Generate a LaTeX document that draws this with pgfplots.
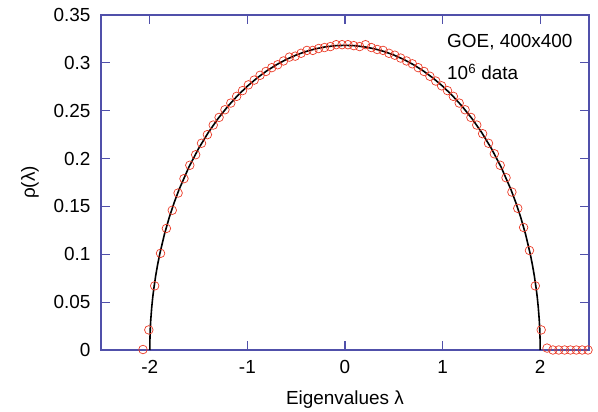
\documentclass[border=0pt]{standalone}
\usepackage{pgfplots}
\pgfplotsset{compat=1.18}
\usepackage{fontspec}
\setmainfont{Liberation Sans}
\definecolor{axblue}{RGB}{80,80,170}
\definecolor{ptred}{RGB}{235,60,40}
\begin{document}
\begin{tikzpicture}
\path[use as bounding box] (-101bp,-62bp) rectangle (497bp,350bp);
\begin{axis}[
  at={(0,0)}, anchor=south west,
  scale only axis, width=488bp, height=335bp,
  xmin=-2.5, xmax=2.5, ymin=0, ymax=0.35,
  xtick={-2,-1,0,1,2}, ytick={0,0.05,0.1,0.15,0.2,0.25,0.3,0.35},
  xticklabels={-2,-1,0,1,2},
  yticklabels={0,0.05,0.1,0.15,0.2,0.25,0.3,0.35},
  tick align=inside, major tick length=0pt,
  axis line style={draw=axblue, line width=1.2bp},
  ticklabel style={font=\fontsize{19}{22}\selectfont},
  xticklabel style={yshift=-7bp},
  yticklabel style={xshift=-7bp},
  label style={font=\fontsize{19}{22}\selectfont},
  xlabel={Eigenvalues λ}, ylabel={ρ(λ)},
  xlabel style={yshift=-10bp},
  ylabel style={yshift=8bp},
  clip=false,
]
\pgfplotsinvokeforeach{-2,-1,0,1,2}{
  \draw[axblue, line width=1.2bp] (axis cs:#1,0) -- (axis cs:#1,0.0094);
  \draw[axblue, line width=1.2bp] (axis cs:#1,0.35) -- (axis cs:#1,0.3406);
}
\pgfplotsinvokeforeach{0.05,0.1,0.15,0.2,0.25,0.3}{
  \draw[axblue, line width=1.2bp] (axis cs:-2.5,#1) -- (axis cs:-2.408,#1);
  \draw[axblue, line width=1.2bp] (axis cs:2.5,#1) -- (axis cs:2.408,#1);
}
\addplot[only marks, mark=o, mark size=4.3bp, mark options={ptred, line width=0.7bp}] coordinates {
(-2.07,0.0005) (-2.01,0.021) (-1.95,0.067) (-1.89,0.101) (-1.83,0.127) (-1.77,0.146)
(-1.71,0.164) (-1.65,0.179) (-1.59,0.193) (-1.53,0.204) (-1.47,0.216) (-1.41,0.225)
(-1.35,0.235) (-1.29,0.243) (-1.23,0.251) (-1.17,0.258) (-1.11,0.265) (-1.05,0.271)
(-0.99,0.277) (-0.93,0.282) (-0.87,0.287) (-0.81,0.291) (-0.75,0.295) (-0.69,0.298)
(-0.63,0.302) (-0.57,0.306) (-0.51,0.307) (-0.45,0.310) (-0.39,0.313) (-0.33,0.313)
(-0.27,0.315) (-0.21,0.316) (-0.15,0.317) (-0.09,0.319) (-0.03,0.319) (0.03,0.319)
(0.09,0.318) (0.15,0.317) (0.21,0.319) (0.27,0.316) (0.33,0.314) (0.39,0.313)
(0.45,0.310) (0.51,0.308) (0.57,0.305) (0.63,0.302) (0.69,0.299) (0.75,0.295)
(0.81,0.291) (0.87,0.286) (0.93,0.281) (0.99,0.276) (1.05,0.271) (1.11,0.265)
(1.17,0.258) (1.23,0.251) (1.29,0.243) (1.35,0.235) (1.41,0.226) (1.47,0.216)
(1.53,0.205) (1.59,0.193) (1.65,0.180) (1.71,0.165) (1.77,0.148) (1.83,0.128)
(1.89,0.104) (1.95,0.067) (2.01,0.021) (2.07,0.002) (2.13,0) (2.19,0) (2.25,0)
(2.31,0) (2.37,0) (2.43,0) (2.49,0)
};
\addplot[black, line width=1.6bp] coordinates {
(-2,0) (-1.999,0.01006) (-1.995,0.02249) (-1.99,0.03179) (-1.98,0.04490) (-1.97,0.05493)
(-1.96,0.06334) (-1.94,0.07738) (-1.92,0.08913) (-1.9,0.09939) (-1.85,0.12095) (-1.8,0.13875)
(-1.75,0.15410) (-1.7,0.16768) (-1.6,0.19099) (-1.5,0.21054) (-1.4,0.22732) (-1.3,0.24190)
(-1.2,0.25465) (-1.1,0.26584) (-1.0,0.27567) (-0.9,0.28426) (-0.8,0.29174) (-0.7,0.29818)
(-0.6,0.30365) (-0.5,0.30820) (-0.4,0.31188) (-0.3,0.31471) (-0.2,0.31671) (-0.1,0.31791)
(0,0.31831)
(0.1,0.31791) (0.2,0.31671) (0.3,0.31471) (0.4,0.31188) (0.5,0.30820) (0.6,0.30365)
(0.7,0.29818) (0.8,0.29174) (0.9,0.28426) (1.0,0.27567) (1.1,0.26584) (1.2,0.25465)
(1.3,0.24190) (1.4,0.22732) (1.5,0.21054) (1.6,0.19099) (1.7,0.16768) (1.75,0.15410)
(1.8,0.13875) (1.85,0.12095) (1.9,0.09939) (1.92,0.08913) (1.94,0.07738) (1.96,0.06334)
(1.97,0.05493) (1.98,0.04490) (1.99,0.03179) (1.995,0.02249) (1.999,0.01006) (2,0)
};
\node[anchor=west, font=\fontsize{19}{22}\selectfont, inner sep=0pt] at (axis cs:1.045,0.3218) {GOE, 400x400};
\node[anchor=west, font=\fontsize{19}{22}\selectfont, inner sep=0pt] at (axis cs:1.045,0.2905) {10\textsuperscript{6} data};
\end{axis}
\end{tikzpicture}
\end{document}
